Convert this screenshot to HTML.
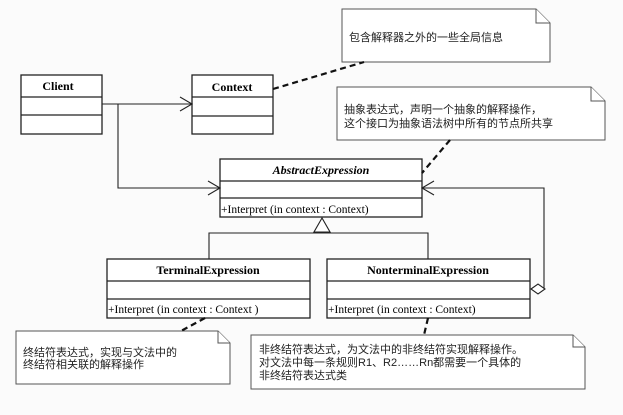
<!DOCTYPE html>
<html><head><meta charset="utf-8"><style>
html,body{margin:0;padding:0;background:#fff;}
svg{display:block;}
.b{font-family:"Liberation Serif","Noto Serif CJK SC",serif;font-weight:bold;font-size:12px;}
.m{font-family:"Liberation Serif",serif;font-size:11.5px;}
.c{font-family:"Liberation Sans","Noto Sans CJK SC",sans-serif;font-size:11px;}
</style></head><body>
<svg width="623" height="415" viewBox="0 0 623 415" xmlns="http://www.w3.org/2000/svg">
<rect width="623" height="415" fill="#fbfbfb"/>
<g fill="#fff" stroke="#222" stroke-width="1.3">
<rect x="21" y="75" width="81" height="59"/><line x1="21" y1="97" x2="102" y2="97"/><line x1="21" y1="115" x2="102" y2="115"/>
<rect x="192" y="75" width="81" height="59"/><line x1="192" y1="97" x2="273" y2="97"/><line x1="192" y1="116" x2="273" y2="116"/>
<rect x="220" y="159" width="202" height="58"/><line x1="220" y1="181" x2="422" y2="181"/><line x1="220" y1="198" x2="422" y2="198"/>
<rect x="107" y="259" width="203" height="59"/><line x1="107" y1="281" x2="310" y2="281"/><line x1="107" y1="299" x2="310" y2="299"/>
<rect x="327" y="259" width="203" height="59"/><line x1="327" y1="281" x2="530" y2="281"/><line x1="327" y1="299" x2="530" y2="299"/>
</g>
<g fill="#fff" stroke="#555" stroke-width="1">
<path d="M342 9 H536 L550 23 V62 H342 Z"/><path d="M536 9 V23 H550"/>
<path d="M337 87 H591 L605 101 V140 H337 Z"/><path d="M591 87 V101 H605"/>
<path d="M16 331 H218 L230 343 V384 H16 Z"/><path d="M218 331 V343 H230"/>
<path d="M251 335 H573 L585 347 V389 H251 Z"/><path d="M573 335 V347 H585"/>
</g>
<g fill="none" stroke="#222" stroke-width="1.1">
<line x1="102" y1="104" x2="192" y2="104"/><path d="M180 97 L192 104 L180 111"/>
<path d="M118 104 V188 H220"/><path d="M208 181 L220 188 L208 195"/>
<path d="M544 289 V188 H422"/><path d="M434 181 L422 188 L434 195"/>
<path d="M209 259 V233 H428 V259"/>
</g>
<path d="M322 218 L314 232 L330 232 Z" fill="#fff" stroke="#222" stroke-width="1.1"/>
<path d="M538 289 L545 284 L552 289 L545 294 Z" fill="#fff" stroke="#222" stroke-width="1.1" transform="translate(-7,0)"/>
<g stroke="#111" stroke-width="2.2" stroke-dasharray="6,4" fill="none">
<line x1="273" y1="89" x2="364" y2="62"/>
<line x1="450" y1="140" x2="422" y2="173"/>
<line x1="205" y1="318" x2="181" y2="331"/>
<line x1="428" y1="318" x2="424" y2="335"/>
</g>
<g class="b" text-anchor="middle">
<text x="58" y="90">Client</text>
<text x="232" y="91">Context</text>
<text x="321" y="174" font-style="italic">AbstractExpression</text>
<text x="208" y="274">TerminalExpression</text>
<text x="428" y="274">NonterminalExpression</text>
</g>
<g class="m">
<text x="221" y="213">+Interpret (in context  : Context)</text>
<text x="108" y="313">+Interpret (in context  : Context )</text>
<text x="328" y="313">+Interpret (in context  : Context)</text>
</g>
<g class="c" fill="#222">
<text x="349" y="41">包含解释器之外的一些全局信息</text>
<text x="344" y="113">抽象表达式，声明一个抽象的解释操作，</text>
<text x="344" y="127">这个接口为抽象语法树中所有的节点所共享</text>
<text x="23" y="356">终结符表达式，实现与文法中的</text>
<text x="23" y="368">终结符相关联的解释操作</text>
<text x="259" y="353">非终结符表达式，为文法中的非终结符实现解释操作。</text>
<text x="259" y="366">对文法中每一条规则R1、R2……Rn都需要一个具体的</text>
<text x="259" y="379">非终结符表达式类</text>
</g>
</svg>
</body></html>
